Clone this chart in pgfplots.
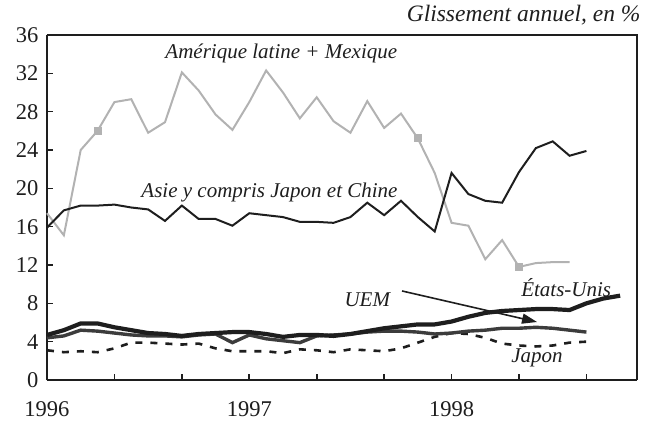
\documentclass[border=0pt]{standalone}
\usepackage{pgfplots}
\pgfplotsset{compat=1.18}
\usepackage{fontspec}
\setmainfont{Liberation Serif}
\usetikzlibrary{arrows.meta}
\definecolor{ink}{RGB}{30,30,30}
\definecolor{lgray}{RGB}{178,178,178}
\definecolor{uem}{RGB}{60,60,60}

\begin{document}
\begin{tikzpicture}
\begin{axis}[scale only axis, width=590pt, height=345pt,
  xmin=0, xmax=35, ymin=0, ymax=36,
  axis line style={ink, line width=2.4pt},
  axis x line*=bottom, axis y line*=left,
  xtick={0,4,...,32}, xticklabels={1996,,,1997,,,1998,,},
  ytick={0,4,...,36},
  tick align=inside, major tick length=6pt,
  tick style={ink, line width=1.6pt},
  xtick pos=bottom, ytick pos=left,
  tick label style={font=\fontsize{22.5}{26}\selectfont, text=ink},
  /pgf/number format/assume math mode=true,
  xticklabel style={yshift=-18pt},
  yticklabel style={xshift=-5pt},
  clip=false]
\draw[ink, line width=2.4pt] (axis cs:0,36) -- (axis cs:35,36) -- (axis cs:35,0);
% Amerique latine + Mexique
\addplot[lgray, line width=2pt, mark=square*, mark size=3pt,
  mark indices={4,23,29}, mark options={solid}] coordinates {
  (0,17.4) (1,15.1) (2,24.0) (3,26.0) (4,29.0) (5,29.3) (6,25.8) (7,26.9)
  (8,32.1) (9,30.2) (10,27.7) (11,26.1) (12,29.0) (13,32.3) (14,30.0)
  (15,27.3) (16,29.5) (17,27.0) (18,25.8) (19,29.1) (20,26.3) (21,27.8)
  (22,25.2) (23,21.6) (24,16.4) (25,16.1) (26,12.6) (27,14.6) (28,11.8)
  (29,12.2) (30,12.3) (31,12.3)};
% Asie
\addplot[ink, line width=2pt] coordinates {
  (0,15.9) (1,17.7) (2,18.2) (3,18.2) (4,18.3) (5,18.0) (6,17.8) (7,16.6)
  (8,18.2) (9,16.8) (10,16.8) (11,16.1) (12,17.4) (13,17.2) (14,17.0)
  (15,16.5) (16,16.5) (17,16.4) (18,17.0) (19,18.5) (20,17.2) (21,18.7)
  (22,17.0) (23,15.5) (24,21.6) (25,19.4) (26,18.7) (27,18.5) (28,21.7)
  (29,24.2) (30,24.9) (31,23.4) (32,23.9)};
% Japon
\addplot[ink, line width=2.6pt, dash pattern=on 7pt off 8pt] coordinates {
  (0,3.1) (1,2.9) (2,3.0) (3,2.9) (4,3.3) (5,3.9) (6,3.9) (7,3.8)
  (8,3.7) (9,3.8) (10,3.3) (11,3.0) (12,3.0) (13,3.0) (14,2.8) (15,3.2)
  (16,3.1) (17,2.9) (18,3.2) (19,3.1) (20,3.0) (21,3.3) (22,3.9) (23,4.5)
  (24,4.9) (25,4.8) (26,4.4) (27,3.8) (28,3.6) (29,3.5) (30,3.6) (31,3.9)
  (32,4.0)};
% UEM
\addplot[uem, line width=3.4pt] coordinates {
  (0,4.4) (1,4.6) (2,5.2) (3,5.1) (4,4.9) (5,4.7) (6,4.6) (7,4.6)
  (8,4.5) (9,4.7) (10,4.8) (11,3.9) (12,4.7) (13,4.3) (14,4.1) (15,3.9)
  (16,4.6) (17,4.7) (18,4.8) (19,5.0) (20,5.1) (21,5.1) (22,5.0) (23,4.8)
  (24,4.9) (25,5.1) (26,5.2) (27,5.4) (28,5.4) (29,5.5) (30,5.4) (31,5.2)
  (32,5.0)};
% Etats-Unis
\addplot[ink, line width=4.2pt] coordinates {
  (0,4.7) (1,5.2) (2,5.9) (3,5.9) (4,5.5) (5,5.2) (6,4.9) (7,4.8)
  (8,4.6) (9,4.8) (10,4.9) (11,5.0) (12,5.0) (13,4.8) (14,4.5) (15,4.7)
  (16,4.7) (17,4.6) (18,4.8) (19,5.1) (20,5.4) (21,5.6) (22,5.8) (23,5.8)
  (24,6.1) (25,6.6) (26,7.0) (27,7.2) (28,7.3) (29,7.4) (30,7.4) (31,7.3)
  (32,8.0) (33,8.5) (34,8.8)};
\begin{scope}[every node/.style={font=\fontsize{21}{24}\selectfont\itshape, text=ink}]
\node at (axis cs:13.9,34.1) {Amérique latine + Mexique};
\node at (axis cs:13.2,19.6) {Asie y compris Japon et Chine};
\node at (axis cs:19.0,8.35) {UEM};
\node at (axis cs:30.8,9.6) {États-Unis};
\node at (axis cs:29.07,2.3) {Japon};
\end{scope}
\draw[ink, line width=1.6pt, -{Triangle[length=15pt, width=10pt]}]
  (axis cs:21.06,9.29) -- (axis cs:29.07,6.05);
\end{axis}
\path (current axis.south west) ++(-47pt,-53pt) coordinate (bl);
\path (current axis.north east) ++(10pt,35pt) coordinate (tr);
\node[anchor=east, font=\fontsize{23.5}{27}\selectfont\itshape, text=ink]
  at ([xshift=7pt, yshift=20pt]current axis.north east) {Glissement annuel, en \%};
\useasboundingbox (bl) rectangle (tr);
\end{tikzpicture}
\end{document}
